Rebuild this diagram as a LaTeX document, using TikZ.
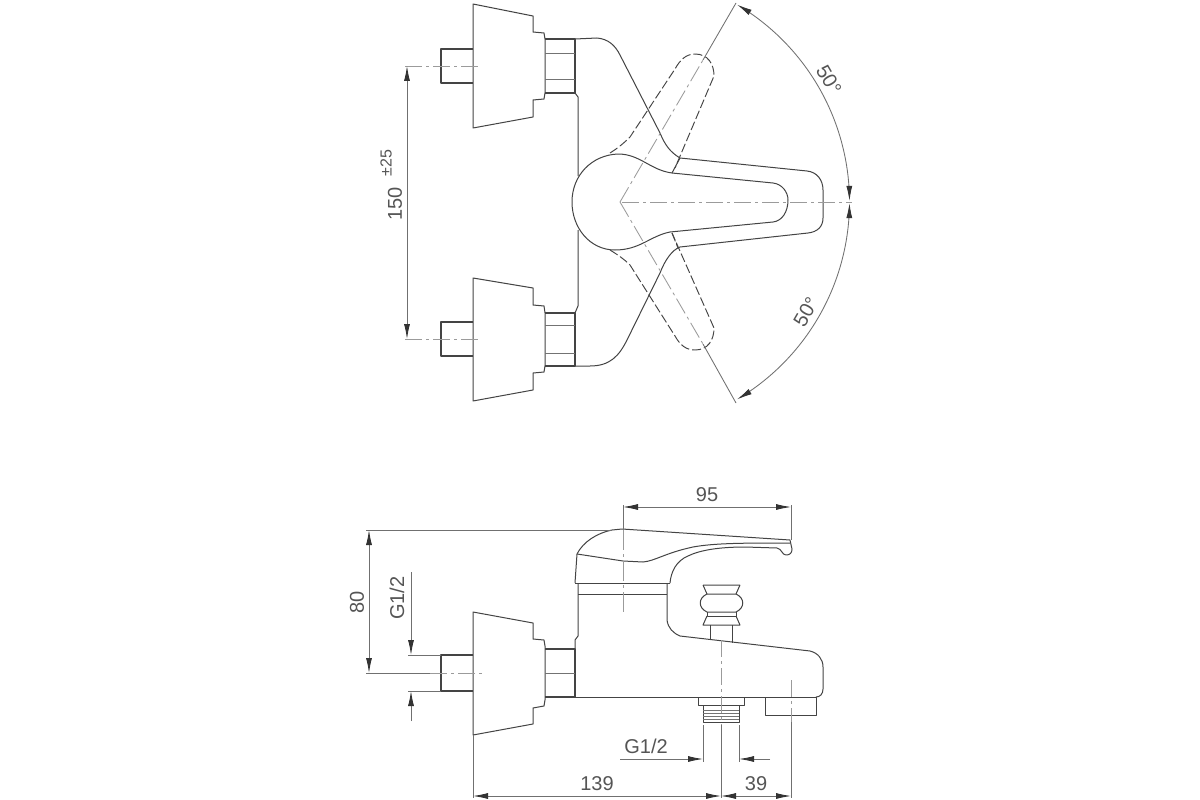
\documentclass[tikz,border=0pt]{standalone}
\usepackage{fontspec}
\setmainfont{Liberation Sans}
\usetikzlibrary{arrows.meta}
\definecolor{ink}{HTML}{444444}
\definecolor{dimc}{HTML}{707070}
\definecolor{txt}{HTML}{555555}
\tikzset{
  part/.style={draw=ink,line width=1pt,line join=round},
  thick part/.style={draw=ink,line width=1.2pt,line join=round},
  thin part/.style={draw=ink!75,line width=0.8pt},
  hidden/.style={draw=ink,line width=0.95pt,dash pattern=on 9pt off 3pt},
  axis/.style={draw=dimc!70,line width=0.85pt,dash pattern=on 17pt off 4pt on 3pt off 4pt},
  dimline/.style={draw=dimc,line width=0.85pt},
  tip/.style={-{Latex[length=15pt,width=6pt,color=black!80]}},
  tips/.style={{Latex[length=15pt,width=6pt,color=black!80]}-{Latex[length=15pt,width=6pt,color=black!80]}},
  lab/.style={text=txt,inner sep=0pt,font=\fontsize{20}{20}\selectfont},
  smalllab/.style={text=txt,inner sep=0pt,font=\fontsize{16}{16}\selectfont}
}
\begin{document}
\begin{tikzpicture}[x=1pt,y=-1pt]
\useasboundingbox (0,0) rectangle (1200,800);
\fill[white] (0,0) rectangle (1200,800);

% ---------- top view: wall fittings
\draw[part] (473,4) -- (473,128) -- (533,117) -- (533,100) -- (544,99) -- (545,93) -- (545,39) -- (544,33) -- (533,32) -- (533,16) -- cycle;
\draw[thick part] (473,49) -- (441,49) -- (441,83) -- (473,83);
\draw[part] (473,278) -- (473,401) -- (533,390) -- (533,373) -- (544,372) -- (545,366) -- (545,313) -- (544,306) -- (533,305) -- (533,288) -- cycle;
\draw[thick part] (473,322) -- (441,322) -- (441,356) -- (473,356);
% nuts
\draw[thick part] (545,39) -- (575,39) -- (575,93) -- (545,93);
\draw[thin part] (545,53) -- (575,53) (545,79) -- (575,79);
\draw[thick part] (545,313) -- (575,313) -- (575,366) -- (545,366);
\draw[thin part] (545,325) -- (575,325) (545,353) -- (575,353);
% body
\draw[part] (575,93) -- (578,97) -- (578,176);
\draw[part] (578,230) -- (578,306) -- (575,313);
\draw[part] (575,39) -- (597,38) .. controls (608,39) and (615,45) .. (620,55)
  -- (660,133) .. controls (665,145) and (670,152) .. (680,158)
  -- (807,171) .. controls (817,172) and (823,180) .. (823,190)
  -- (823,218) .. controls (823,227) and (817,232) .. (808,233)
  -- (680,247) .. controls (672,250) and (665,260) .. (660,273)
  -- (627,340) .. controls (619,356) and (610,366) .. (590,366) -- (575,366);
% handle
\draw[part] (615,250) .. controls (590,250) and (572,228) .. (572,202)
  .. controls (572,175) and (592,155) .. (618,154)
  .. controls (640,154) and (650,170) .. (672,173)
  -- (773,183) .. controls (782,184) and (788,192) .. (788,200)
  .. controls (788,212) and (782,221) .. (773,222)
  -- (670,232) .. controls (650,236) and (640,250) .. (615,250);
\draw[part] (672,173) -- (680,158);
\draw[hidden] (672,233) -- (678,248);
% dashed swung handles
\draw[hidden] (610,153) .. controls (618,148) and (624,143) .. (630,137)
  -- (675,69) .. controls (680,60) and (686,54) .. (695,54)
  .. controls (708,54) and (714,64) .. (714,76) -- (675,168);
\draw[hidden] (610,250) .. controls (618,255) and (624,259) .. (630,265)
  -- (675,336) .. controls (680,345) and (686,350) .. (695,350)
  .. controls (708,350) and (714,340) .. (714,328) -- (672,233);
% axes
\draw[axis] (622,202) -- (852,202);
\draw[axis] (620,202) -- (703,60);
\draw[dimline] (703,60) -- (736,3);
\draw[axis] (620,202) -- (703,344);
\draw[dimline] (703,344) -- (736,403);
\draw[axis] (405,66) -- (480,66);
\draw[axis] (405,339) -- (480,339);
% angle dimensions
\draw[dimline,tips] plot[domain=-59.3:-0.3,samples=50,smooth] ({620+229.5*cos(\x)},{202+229.5*sin(\x)});
\draw[dimline,tips] plot[domain=0.3:59.3,samples=50,smooth] ({620+229.5*cos(\x)},{202+229.5*sin(\x)});
\node[lab,rotate=-60] (a1) at (829,80) {50°};
\node[lab,rotate=60] (a2) at (806,312) {50°};
% 150 dimension
\draw[dimline,tips] (407,66) -- (407,339);
\node[lab,rotate=90] (d150) at (395,204) {150};
\node[smalllab,rotate=90] (d25) at (386,163) {±25};

% ---------- front view
\draw[part] (473,612) -- (473,735) -- (533,724) -- (533,708) -- (544,706) -- (545,700) -- (545,646) -- (544,640) -- (533,639) -- (533,623) -- cycle;
\draw[thick part] (473,655) -- (441,655) -- (441,691) -- (473,691);
\draw[thick part] (545,649) -- (575,649) -- (575,697) -- (545,697);
\draw[thin part] (545,673) -- (575,673);
% body below collar
\draw[part] (575,649) -- (575,640) -- (578,636) -- (578,583);
\draw[part] (667,583) -- (667,620) .. controls (668,628) and (673,633) .. (680,636)
  -- (810,651) .. controls (818,653) and (823,659) .. (823,667)
  -- (823,689) .. controls (823,694) and (820,697) .. (816,697);
\draw[part] (575,697) -- (816,697);
% collar
\draw[part] (575,583) -- (670,583);
\draw[part] (578,594) -- (667,594);
% handle
\draw[part] (575,583) -- (577,554) .. controls (583,542) and (597,533) .. (612,530) -- (622,529)
  -- (790,540) -- (792,549) .. controls (792,553) and (790,555) .. (786,555)
  .. controls (782,555) and (782,549) .. (777,548)
  -- (745,547) .. controls (720,547) and (700,550) .. (688,556)
  .. controls (676,561) and (671,572) .. (670,583);
\draw[part] (577,554) -- (623,561) -- (643,562) .. controls (655,561) and (665,553) .. (693,547)
  .. controls (715,543) and (745,543) .. (790,543);
% knob
\draw[part] (703,585) -- (740,585) (703,585) -- (707,594) -- (736,594) -- (740,585);
\draw[part] (707,594) .. controls (698,598) and (698,608) .. (707,612) -- (736,612)
  .. controls (745,608) and (745,598) .. (736,594);
\draw[part] (707,612) -- (707,616) -- (736,616) -- (736,612);
\draw[part] (707,616) -- (703,625) -- (740,625) -- (736,616);
\draw[part] (710,625) -- (710,640) (732,625) -- (732,643);
% outlet and thread
\draw[part] (698,697) -- (698,705) -- (744,705) -- (744,697);
\draw[part] (703,705) -- (703,722) -- (739,722) -- (739,705);
\draw[thin part] (703,710) -- (739,710) (703,713) -- (739,713) (703,716) -- (739,716) (703,719) -- (739,719);
\draw[part] (765,697) -- (765,715) -- (816,715) -- (816,697);
% axes and extension lines
\draw[dimline] (623,505) -- (623,530);
\draw[axis,dash pattern=on 20pt off 4pt on 3pt off 4pt] (623,530) -- (623,614);
\draw[axis] (721,640) -- (721,725);
\draw[dimline] (721,725) -- (721,798);
\draw[axis] (791,680) -- (791,722);
\draw[dimline] (791,722) -- (791,798);
\draw[dimline] (791,505) -- (791,540);
\draw[dimline] (366,530) -- (612,530);
\draw[dimline] (366,673) -- (430,673);
\draw[axis] (430,673) -- (482,673);
\draw[dimline] (408,655) -- (441,655) (408,691) -- (441,691);
\draw[dimline] (473,735) -- (473,798);
\draw[dimline] (703,725) -- (703,762) (739,725) -- (739,762);
% dimensions
\draw[dimline,tips] (623,507) -- (791,507);
\node[lab] (d95) at (707,495) {95};
\draw[dimline,tips] (369,530) -- (369,673);
\node[lab,rotate=90] (d80) at (357,602) {80};
\draw[dimline,tip] (411,572) -- (411,655);
\draw[dimline,tip] (411,721) -- (411,691);
\node[lab,rotate=90] (dg1) at (397,598) {G1/2};
\draw[dimline,tip] (620,759) -- (703,759);
\draw[dimline,tip] (770,759) -- (739,759);
\node[lab] (dg2) at (646,746) {G1/2};
\draw[dimline,tips] (473,796) -- (721,796);
\node[lab] (d139) at (597,784) {139};
\draw[dimline,tips] (721,796) -- (791,796);
\node[lab] (d39) at (756,784) {39};
\end{tikzpicture}
\end{document}
